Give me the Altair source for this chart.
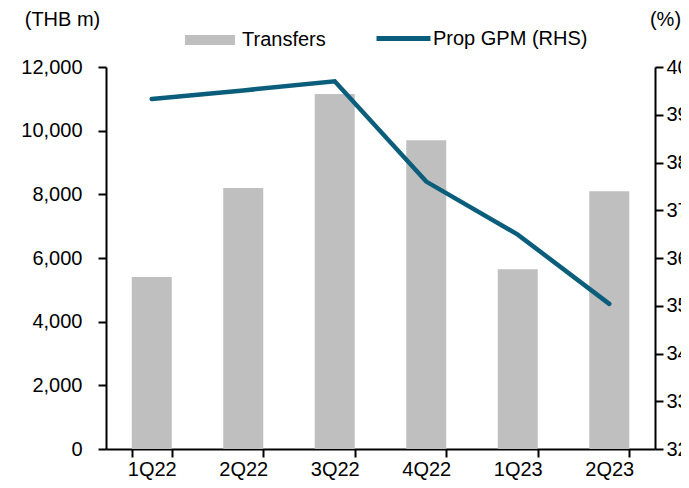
import altair as alt
import pandas as pd

quarters = ["1Q22", "2Q22", "3Q22", "4Q22", "1Q23", "2Q23"]
transfers = [5400, 8200, 11150, 9700, 5650, 8100]
prop_gpm = [39.33, 39.51, 39.70, 37.60, 36.49, 35.04]
left_ticks = [0, 2000, 4000, 6000, 8000, 10000, 12000]
right_ticks = [32, 33, 34, 35, 36, 37, 38, 39, 40]

df = pd.DataFrame({
    "quarter": quarters,
    "transfers": transfers,
    "gpm": prop_gpm,
    "s1": ["Transfers"] * len(quarters),
    "s2": ["Prop GPM (RHS)"] * len(quarters),
})

FONT = "Liberation Sans"
BAR = "#bfbfbf"
LINE = "#0b5e7b"

x = alt.X(
    "quarter:N", sort=quarters, title=None,
    scale=alt.Scale(paddingInner=0.56, paddingOuter=0.28),
    axis=alt.Axis(labelAngle=0, tickBand="extent", labelPadding=2),
)

bars = alt.Chart(df).mark_bar(size=40).encode(
    x=x,
    y=alt.Y("transfers:Q", scale=alt.Scale(domain=[0, 12000], nice=False),
            axis=alt.Axis(values=left_ticks, format=",.0f", title="(THB m)",
                          titleAngle=0, titleAlign="center", titleBaseline="middle",
                          titleX=-44, titleY=-48, titleFontWeight="normal",
                          titleFontSize=20, titleFont=FONT, labelPadding=16)),
    color=alt.Color("s1:N", scale=alt.Scale(domain=["Transfers"], range=[BAR]),
                    legend=alt.Legend(title=None, orient="none", legendX=79, legendY=-52,
                                      symbolType="M-1,-0.2H1V0.2H-1Z", symbolSize=2500,
                                      symbolStrokeWidth=0, labelOffset=7)),
)

line = alt.Chart(df).mark_line(strokeWidth=4.5, strokeCap="round").encode(
    x=x,
    y=alt.Y("gpm:Q", scale=alt.Scale(domain=[32, 40], nice=False, zero=False),
            axis=alt.Axis(values=right_ticks, orient="right", title="(%)",
                          titleAngle=0, titleAlign="center", titleBaseline="middle",
                          titleX=10, titleY=-48, titleFontWeight="normal",
                          titleFontSize=20, titleFont=FONT, labelPadding=3)),
    stroke=alt.Stroke("s2:N", scale=alt.Scale(domain=["Prop GPM (RHS)"], range=[LINE]),
                      legend=alt.Legend(title=None, orient="none", legendX=268, legendY=-58,
                                        symbolType="stroke", symbolSize=2916,
                                        symbolStrokeWidth=5, labelOffset=0)),
)

chart = alt.layer(bars, line).resolve_scale(
    y="independent", color="independent", stroke="independent"
).properties(
    width=549, height=382,
    autosize=alt.AutoSizeParams(type="none"),
    padding={"left": 98, "top": 59, "right": 26, "bottom": 31},
).configure_view(stroke=None).configure_axis(
    labelFont=FONT, labelFontSize=20, labelColor="black",
    domainColor="black", domainWidth=2, tickColor="black", tickWidth=2, tickSize=8,
    grid=False,
).configure_legend(
    labelFont=FONT, labelFontSize=20, labelColor="black", padding=0,
)

chart.save("out.html", embed_options={"renderer": "svg", "actions": False})
